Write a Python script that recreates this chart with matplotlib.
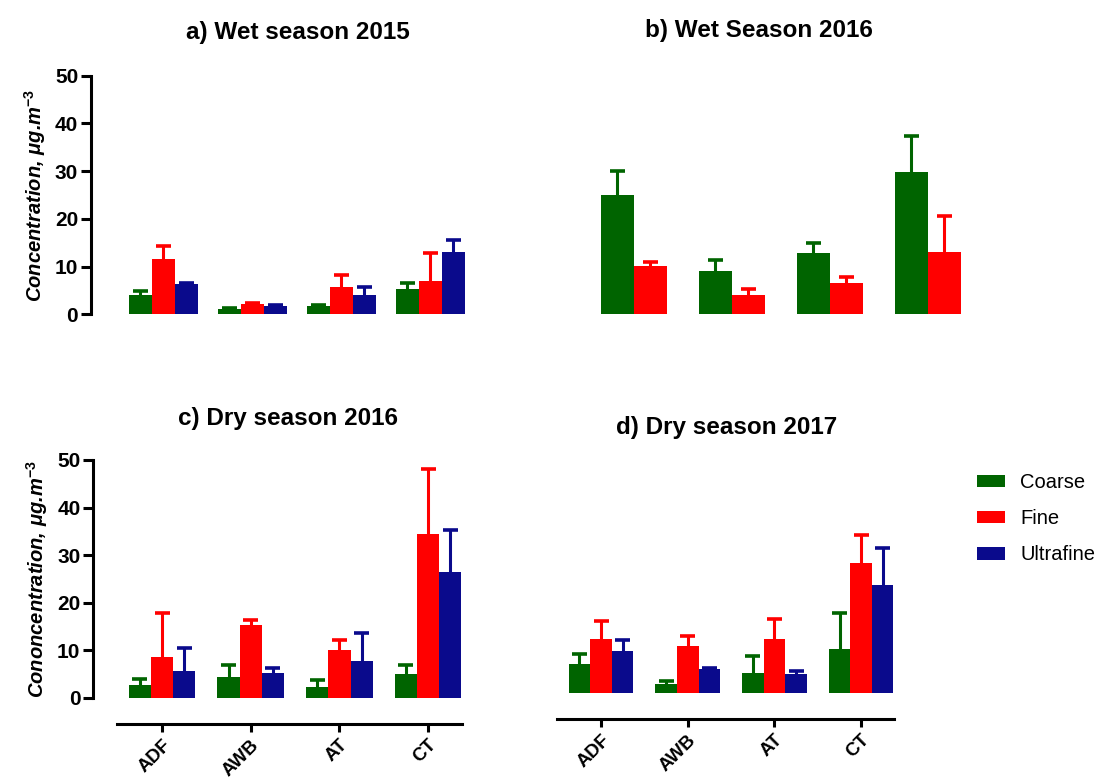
import numpy as np
import matplotlib
matplotlib.use('Agg')
import matplotlib.pyplot as plt
from matplotlib.patches import Patch

plt.rcParams['font.family'] = ['Liberation Sans', 'DejaVu Sans']
plt.rcParams['mathtext.fontset'] = 'custom'
plt.rcParams['mathtext.rm'] = 'Liberation Sans'
plt.rcParams['mathtext.it'] = 'Liberation Sans:italic:bold'
plt.rcParams['mathtext.bf'] = 'Liberation Sans:bold'

sites = ['ADF', 'AWB', 'AT', 'CT']
fractions = ['Coarse', 'Fine', 'Ultrafine']
colors = ['#006400', '#ff0000', '#0a0a8c']

# a) Wet season 2015 (mean, upper error)
a_mean = [[4.1, 1.2, 1.7, 5.2], [11.6, 2.2, 5.7, 7.0], [6.3, 1.8, 4.1, 13.1]]
a_err = [[0.8, 0.1, 0.3, 1.3], [2.8, 0.1, 2.5, 5.9], [0.3, 0.1, 1.6, 2.5]]

# b) Wet season 2016 (coarse, fine only)
b_mean = [[25.1, 9.0, 12.8, 29.8], [10.2, 4.0, 6.5, 13.0]]
b_err = [[4.9, 2.3, 2.2, 7.5], [0.8, 1.2, 1.3, 7.5]]

# c) Dry season 2016
c_mean = [[2.7, 4.3, 2.3, 4.9], [8.5, 15.3, 10.0, 34.4], [5.6, 5.1, 7.8, 26.5]]
c_err = [[1.2, 2.5, 1.5, 1.9], [9.3, 1.0, 2.1, 13.7], [4.9, 1.1, 5.9, 8.7]]

# d) Dry season 2017
d_mean = [[6.0, 1.8, 4.2, 9.1], [11.4, 9.8, 11.3, 27.4], [8.8, 4.9, 4.0, 22.6]]
d_err = [[2.1, 0.7, 3.5, 7.7], [3.8, 2.1, 4.3, 5.7], [2.2, 0.4, 0.6, 7.8]]

W, H = 1099, 778
fig = plt.figure(figsize=(W / 100, H / 100), dpi=100)


def px_axes(left, right, bottom_y, top_y):
    # pixel coords (y from top) -> figure fraction
    return fig.add_axes([left / W, 1 - bottom_y / H, (right - left) / W, (bottom_y - top_y) / H])


def draw_bars(ax, means, errs, width, offsets, spacing):
    x = np.arange(len(sites))
    cap = 7.5 / spacing  # half cap width in data units
    for k, (m, e) in enumerate(zip(means, errs)):
        c = colors[k]
        xs = x + offsets[k] * width
        top = np.array(m) + np.array(e)
        ax.vlines(xs, m, top, color=c, linewidth=2.2, zorder=1)
        ax.hlines(top, xs - cap, xs + cap, color=c, linewidth=2.6, zorder=1)
        ax.bar(xs, m, width, color=c, edgecolor='none', zorder=2)


def style(ax, yaxis, xaxis, xr):
    ax.set_ylim(0, 50)
    ax.set_xlim(*xr)
    for s in ['top', 'right']:
        ax.spines[s].set_visible(False)
    if yaxis:
        ax.spines['left'].set_linewidth(2.2)
        ax.set_yticks([0, 10, 20, 30, 40, 50])
        ax.tick_params(axis='y', width=2.2, length=7, labelsize=15, pad=2)
        for t in ax.get_yticklabels():
            t.set_fontweight('bold')
    else:
        ax.spines['left'].set_visible(False)
        ax.set_yticks([])
    if xaxis:
        ax.spines['bottom'].set_position(('outward', 19))
        ax.spines['bottom'].set_linewidth(2.2)
        ax.spines['bottom'].set_bounds(-0.51, 3.38)
        ax.set_xticks(range(len(sites)))
        ax.set_xticklabels(sites, rotation=45, ha='right', rotation_mode='anchor',
                           fontsize=13.5, fontweight='bold')
        ax.tick_params(axis='x', width=2.2, length=6, pad=3)
    else:
        ax.spines['bottom'].set_visible(False)
        ax.set_xticks([])
    ax.patch.set_alpha(0)


# a
ax_a = px_axes(90.7, 474.5, 314.3, 75.7)
draw_bars(ax_a, a_mean, a_err, 23 / 89, [-1, 0, 1], 89)
style(ax_a, True, False, ((90.7 - 163) / 89, (474.5 - 163) / 89))
ax_a.set_ylabel('Concentration, μg.m$^{\\mathbf{-3}}$', fontsize=14.5, fontweight='bold',
                fontstyle='italic', labelpad=5)
fig.text(298 / W, 1 - 33 / H, 'a) Wet season 2015', ha='center', va='center',
         fontsize=17.5, fontweight='bold')

# b
ax_b = px_axes(560, 1000, 314.3, 75.7)
draw_bars(ax_b, b_mean, b_err, 33 / 98, [-1, 0], 98)
style(ax_b, False, False, ((560 - 650) / 98, (1000 - 650) / 98))
fig.text(759 / W, 1 - 31 / H, 'b) Wet Season 2016', ha='center', va='center',
         fontsize=17.5, fontweight='bold')

# c
ax_c = px_axes(93, 472, 697.7, 460)
draw_bars(ax_c, c_mean, c_err, 22.2 / 88.7, [-1, 0, 1], 88.7)
style(ax_c, True, True, ((93 - 162) / 88.7, (472 - 162) / 88.7))
ax_c.set_ylabel('Cononcentration, μg.m$^{\\mathbf{-3}}$', fontsize=14.5, fontweight='bold',
                fontstyle='italic', labelpad=5)
fig.text(288 / W, 1 - 418 / H, 'c) Dry season 2016', ha='center', va='center',
         fontsize=17.5, fontweight='bold')

# d
ax_d = px_axes(540, 904, 692.7, 455.2)
draw_bars(ax_d, d_mean, d_err, 21.6 / 86.7, [-1, 0, 1], 86.7)
style(ax_d, False, True, ((540 - 601) / 86.7, (904 - 601) / 86.7))
fig.text(727 / W, 1 - 427 / H, 'd) Dry season 2017', ha='center', va='center',
         fontsize=17.5, fontweight='bold')

handles = [Patch(facecolor=c, edgecolor='none', label=l) for c, l in zip(colors, fractions)]
fig.legend(handles=handles, loc='upper left', bbox_to_anchor=(971 / W, 1 - 467 / H),
           frameon=False, fontsize=14.5, handlelength=1.4, handleheight=0.6,
           labelspacing=0.85, handletextpad=0.75, borderaxespad=0, borderpad=0.3)

fig.savefig('out.png', dpi=100)
